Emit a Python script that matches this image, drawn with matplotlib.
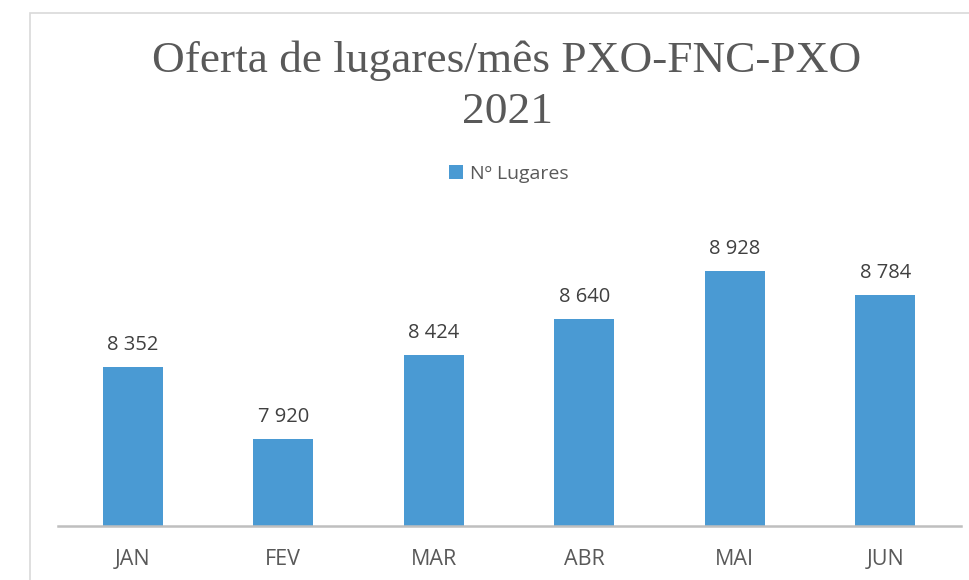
import matplotlib
matplotlib.use('Agg')
import matplotlib.pyplot as plt
from matplotlib.patches import Rectangle

months = ['JAN', 'FEV', 'MAR', 'ABR', 'MAI', 'JUN']
lugares = [8352, 7920, 8424, 8640, 8928, 8784]
series_name = 'Nº Lugares'
title_line1 = 'Oferta de lugares/mês PXO-FNC-PXO'
title_line2 = '2021'

W, H = 969, 580
fig = plt.figure(figsize=(W / 100, H / 100), dpi=100)
plt.rcParams['font.family'] = ['Open Sans', 'DejaVu Sans']

# chart area border (cropped at right/bottom)
fig.add_artist(Rectangle((30 / W, -0.1), 1.2, 1.1 - 13 / H, transform=fig.transFigure,
                         fill=False, ec='#d9d9d9', lw=1.2))

ax = fig.add_axes([57.5 / W, (H - 525.7) / H, 903 / W, 300 / H])
bars = ax.bar(range(len(months)), lugares, width=0.4, color='#4a9ad3', label=series_name)
ax.set_xlim(-0.5, len(months) - 0.5)
ax.set_ylim(7400, 9200)

for s in ['top', 'left', 'right']:
    ax.spines[s].set_visible(False)
ax.spines['bottom'].set_color('#bfbfbf')
ax.spines['bottom'].set_linewidth(1.8)
ax.set_yticks([])
ax.set_xticks(range(len(months)))
ax.set_xticklabels(months, fontsize=15.5, color='#595959')
ax.tick_params(axis='x', length=0, pad=16.5)

ax.bar_label(bars, labels=[f'{v:,}'.replace(',', ' ') for v in lugares],
             padding=9, fontsize=14.5, color='#404040')

fig.text(507 / W, 1 - 72 / H, title_line1, ha='center', va='baseline',
         fontsize=32.7, color='#595959', family=['Liberation Serif', 'DejaVu Serif'])
fig.text(507 / W, 1 - 123 / H, title_line2, ha='center', va='baseline',
         fontsize=32.7, color='#595959', family=['Liberation Serif', 'DejaVu Serif'])

fig.legend(handles=[bars], labels=[series_name], loc='center',
           bbox_to_anchor=(509 / W, 1 - 174 / H), frameon=False, fontsize=14,
           handlelength=0.7, handleheight=0.7, handletextpad=0.4, labelcolor='#595959')

fig.savefig('out.png', dpi=100)
